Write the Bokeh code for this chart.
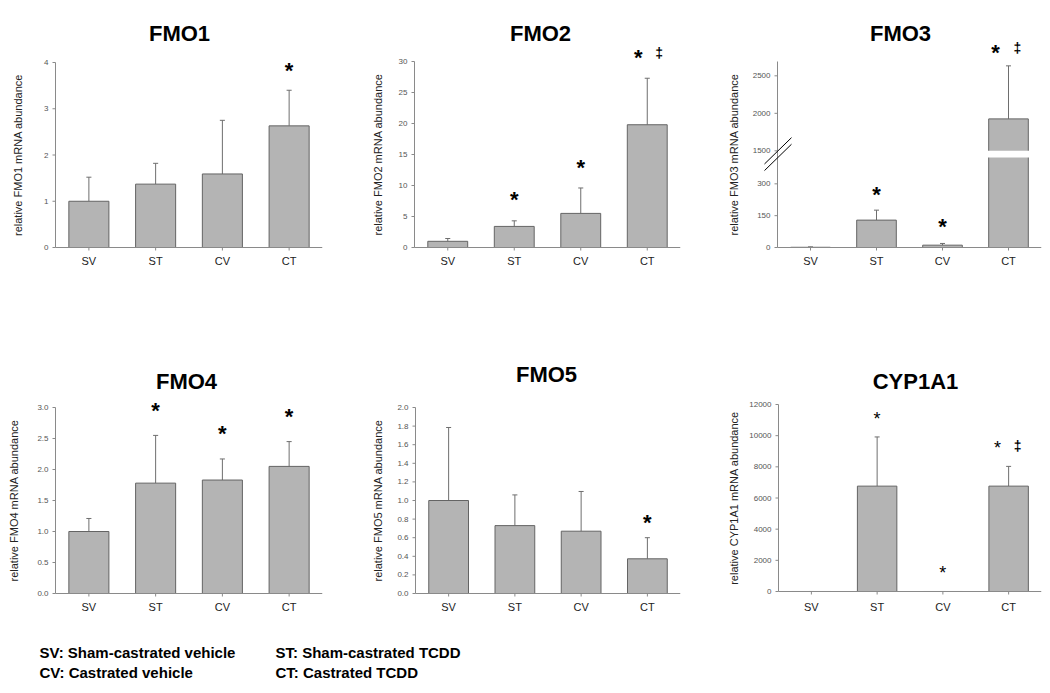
import math
from bokeh.plotting import figure
from bokeh.models import Range1d, FixedTicker, Label
from bokeh.layouts import column, row
from bokeh.embed import file_html
from bokeh.resources import INLINE
from bokeh.core.properties import value

groups = ["SV", "ST", "CV", "CT"]

fmo1_mean = [1.00, 1.37, 1.59, 2.63]
fmo1_upper = [1.52, 1.82, 2.75, 3.40]
fmo1_ticks = [0, 1, 2, 3, 4]
fmo1_star = [None, None, None, 3.86]
fmo1_dagger = [None, None, None, None]

fmo2_mean = [1.0, 3.4, 5.5, 19.8]
fmo2_upper = [1.45, 4.3, 9.6, 27.3]
fmo2_ticks = [0, 5, 10, 15, 20, 25, 30]
fmo2_star = [None, 8.1, 13.2, 30.9]
fmo2_dagger = [None, None, None, 30.9]

fmo3_mean = [1, 129, 11, 1926]
fmo3_upper = [3, 176, 19, 2633]
fmo3_ticks = [0, 150, 300, 1500, 2000, 2500]
fmo3_star = [None, 259, 110, 2833]
fmo3_dagger = [None, None, None, 2833]

fmo4_mean = [1.00, 1.78, 1.83, 2.05]
fmo4_upper = [1.21, 2.55, 2.17, 2.45]
fmo4_ticks = [0.0, 0.5, 1.0, 1.5, 2.0, 2.5, 3.0]
fmo4_star = [None, 2.98, 2.62, 2.88]
fmo4_dagger = [None, None, None, None]

fmo5_mean = [1.00, 0.73, 0.67, 0.373]
fmo5_upper = [1.785, 1.06, 1.097, 0.60]
fmo5_ticks = [0.0, 0.2, 0.4, 0.6, 0.8, 1.0, 1.2, 1.4, 1.6, 1.8, 2.0]
fmo5_star = [None, None, None, 0.79]
fmo5_dagger = [None, None, None, None]

cyp_mean = [1, 6762, 1, 6762]
cyp_upper = [1, 9918, 1, 8029]
cyp_ticks = [0, 2000, 4000, 6000, 8000, 10000, 12000]
cyp_star = [None, 10990, 1116, 9167]
cyp_dagger = [None, None, None, 9167]

legend_text = ["SV: Sham-castrated vehicle", "ST: Sham-castrated TCDD",
               "CV: Castrated vehicle", "CT: Castrated TCDD"]

FONT = "Liberation Sans"
AX = "#8a8a8a"


def fmo3_scale(v):
    # broken axis: linear 0-300 below the break, compressed above 1500
    if v <= 1000:
        return float(v)
    return 455.5 + (v - 1500) * 0.3534


def fmo3_inverse(d):
    return 1500 + (d - 455.5) / 0.3534


def lab0(t):
    return [str(int(v)) for v in t]


def lab1(t):
    return ["%.1f" % v for v in t]


def make_panel(title, ylabel, means, uppers, ticks, labels, y_top,
               fig_x, fig_w, fig_y, fig_h, ax_l, ax_r, ax_t, ax_b, frame_b,
               title_cx, title_cy, ylabel_cx, stars, daggers,
               star_dx=0, dagger_dx=0, star_size="22px", star_style="bold", star_dy=-2,
               f=lambda v: v):
    ux = (ax_r - ax_l) / 4.0
    uy = (ax_b - ax_t) / float(f(y_top))
    R = fig_x + fig_w - ax_r
    B = fig_y + fig_h - frame_b
    p = figure(width=fig_w, height=fig_h,
               x_range=Range1d(-0.5 - (ax_l - fig_x) / ux, 3.5),
               y_range=Range1d(-(frame_b - ax_b) / uy, f(y_top) + (ax_t - fig_y) / uy),
               y_axis_location=None,
               output_backend="svg", toolbar_location=None,
               min_border_left=0, min_border_right=R, min_border_top=0, min_border_bottom=B)
    p.outline_line_color = None
    p.xgrid.visible = False
    p.ygrid.visible = False

    # title
    p.text(x=[-0.5 + (title_cx - ax_l) / ux], y=[(ax_b - title_cy) / uy], text=[title],
           text_align="center", text_baseline="middle", text_font=value(FONT),
           text_font_size="22px", text_font_style="bold", text_color="black")

    xs = list(range(len(groups)))
    tops = [f(m) for m in means]
    ups = [f(u) for u in uppers]
    p.segment(x0=xs, y0=tops, x1=xs, y1=ups, line_color="#6e6e6e", line_width=1)
    p.segment(x0=[x - 0.038 for x in xs], y0=ups, x1=[x + 0.038 for x in xs], y1=ups,
              line_color="#6e6e6e", line_width=1)
    p.vbar(x=xs, top=tops, bottom=0, width=0.6, fill_color="#b4b4b4", line_color="#646464",
           line_width=1)

    # x axis: built-in tick labels, own line and ticks
    p.xaxis.ticker = FixedTicker(ticks=xs)
    p.xaxis.major_label_overrides = {x: g for x, g in zip(xs, groups)}
    p.xaxis.major_tick_line_color = None
    p.xaxis.major_tick_out = 0
    p.xaxis.major_tick_in = 0
    p.xaxis.minor_tick_line_color = None
    p.xaxis.axis_line_color = None
    p.xaxis.major_label_text_font = FONT
    p.xaxis.major_label_text_font_size = "11px"
    p.xaxis.major_label_text_color = "#222222"
    p.xaxis.major_label_standoff = 1
    p.segment(x0=[-0.5], y0=[0], x1=[3.5], y1=[0], line_color=AX, line_width=1)
    p.ray(x=xs, y=[0] * len(xs), length=3, length_units="screen", angle=-math.pi / 2,
          line_color=AX, line_width=1)

    # y axis drawn from its tick values
    yt = [f(t) for t in ticks]
    n = len(yt)
    p.segment(x0=[-0.5], y0=[0], x1=[-0.5], y1=[f(y_top)], line_color=AX, line_width=1)
    p.ray(x=[-0.5] * n, y=yt, length=3, length_units="screen", angle=math.pi,
          line_color=AX, line_width=1)
    p.text(x=[-0.5] * n, y=yt, text=labels, x_offset=-7, text_align="right",
           text_baseline="middle", text_font=value(FONT), text_font_size="8px",
           text_color="#555555")
    p.text(x=[-0.5 + (ylabel_cx - ax_l) / ux], y=[f(y_top) / 2.0], text=[ylabel],
           angle=math.pi / 2, text_align="center", text_baseline="middle",
           text_font=value(FONT), text_font_size="11px", text_color="#222222")

    for i, s in enumerate(stars):
        if s is not None:
            dx = star_dx if daggers[i] is not None else 0
            p.add_layout(Label(x=i, y=f(s), text="*", text_align="center", text_baseline="middle",
                               x_offset=dx, y_offset=star_dy, text_font=FONT,
                               text_font_size=star_size, text_font_style=star_style,
                               text_color="black"))
    for i, d in enumerate(daggers):
        if d is not None:
            p.add_layout(Label(x=i, y=f(d), text="\u2021", text_align="center",
                               text_baseline="middle", x_offset=dagger_dx, y_offset=3,
                               text_font=FONT, text_font_size="14px", text_font_style="bold",
                               text_color="black"))
    return p


# row 1: figures 0..300 px high; row 2: 300..620
p1 = make_panel("FMO1", "relative FMO1 mRNA abundance", fmo1_mean, fmo1_upper, fmo1_ticks,
                lab0(fmo1_ticks), 4, 0, 368, 0, 300, 55, 322, 62, 247, 253,
                179, 33, 17, fmo1_star, fmo1_dagger)
p2 = make_panel("FMO2", "relative FMO2 mRNA abundance", fmo2_mean, fmo2_upper, fmo2_ticks,
                lab0(fmo2_ticks), 30, 368, 352, 0, 300, 414, 680, 61, 247, 253,
                540, 33, 377, fmo2_star, fmo2_dagger, star_dx=-9, dagger_dx=12)
p3 = make_panel("FMO3", "relative FMO3 mRNA abundance", fmo3_mean, fmo3_upper, fmo3_ticks,
                lab0(fmo3_ticks), fmo3_inverse(876.4), 720, 322, 0, 300, 777, 1041, 61, 247,
                253, 900, 33, 733, fmo3_star, fmo3_dagger, star_dx=-13, dagger_dx=9,
                f=fmo3_scale)
# white break band across the CT bar and break marks crossing the axis
brk = fmo3_scale(1500)
p3.vbar(x=[3], bottom=brk - 31, top=brk, width=0.64, fill_color="white", line_color=None)
p3.segment(x0=[-0.697, -0.697], y0=[brk - 62, brk - 93], x1=[-0.288, -0.288],
           y1=[brk + 62, brk + 31], line_color="black", line_width=1)

p4 = make_panel("FMO4", "relative FMO4 mRNA abundance", fmo4_mean, fmo4_upper, fmo4_ticks,
                lab1(fmo4_ticks), 3.0, 0, 368, 300, 320, 55, 322, 407, 593, 599,
                186, 381, 13, fmo4_star, fmo4_dagger)
p5 = make_panel("FMO5", "relative FMO5 mRNA abundance", fmo5_mean, fmo5_upper, fmo5_ticks,
                lab1(fmo5_ticks), 2.0, 368, 352, 300, 320, 415, 680, 407, 593, 599,
                546, 374, 377, fmo5_star, fmo5_dagger)
p6 = make_panel("CYP1A1", "relative CYP1A1 mRNA abundance", cyp_mean, cyp_upper, cyp_ticks,
                lab0(cyp_ticks), 12000, 720, 322, 300, 320, 778, 1041, 404, 591, 599,
                915, 381, 733, cyp_star, cyp_dagger, star_dx=-11, dagger_dx=9,
                star_size="18px", star_style="normal", star_dy=1)

leg = figure(width=1042, height=65, x_range=Range1d(0, 1042), y_range=Range1d(65, 0),
             x_axis_type=None, y_axis_type=None, output_backend="svg", toolbar_location=None,
             min_border_left=0, min_border_right=0, min_border_top=0, min_border_bottom=0)
leg.outline_line_color = None
leg.xgrid.visible = False
leg.ygrid.visible = False
leg.text(x=[39, 275, 39, 275], y=[32, 32, 52, 52], text=legend_text,
         text_font=value(FONT), text_font_size="15px", text_font_style="bold",
         text_baseline="middle", text_align="left", text_color="black")

layout = column(row(p1, p2, p3), row(p4, p5, p6), leg)
open("out.html", "w").write(file_html(layout, INLINE))
